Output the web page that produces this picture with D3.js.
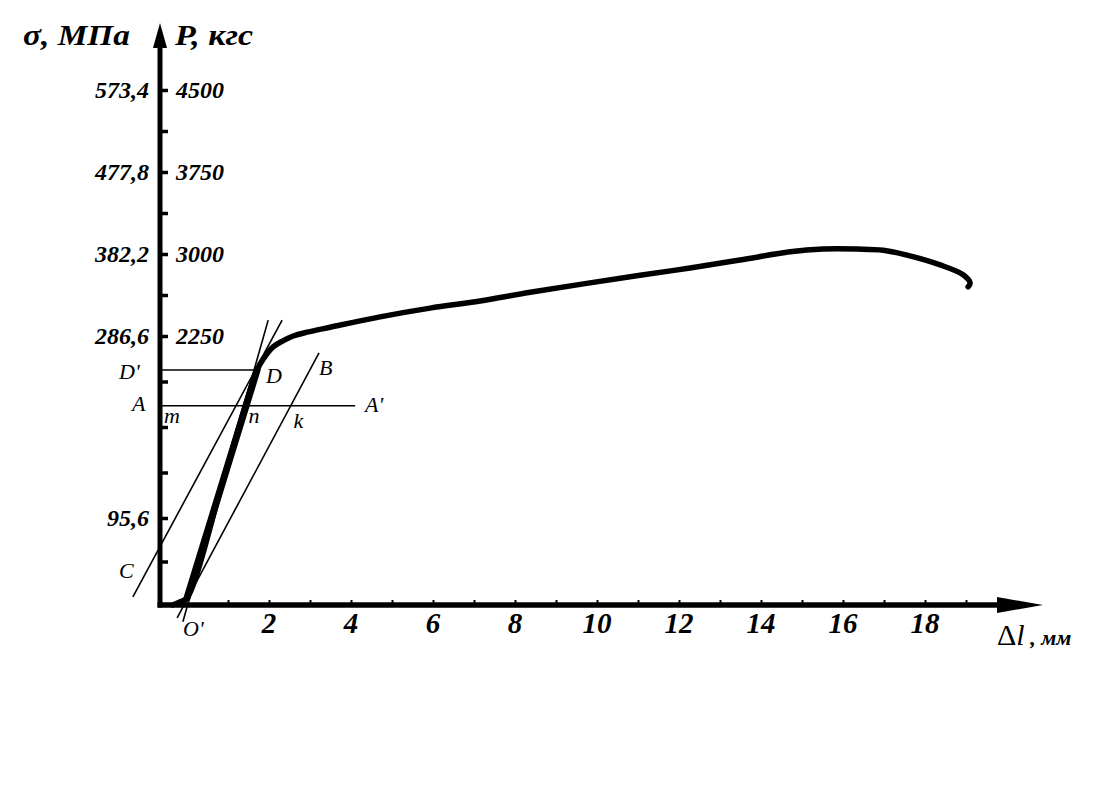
<!DOCTYPE html>
<html>
<head>
<meta charset="utf-8">
<script src="https://cdn.jsdelivr.net/npm/d3@7"></script>
<style>
  html, body { margin: 0; padding: 0; background: #fff; }
  svg { display: block; }
  text { font-family: "Liberation Serif", "Times New Roman", serif; fill: #000; }
</style>
</head>
<body>
<svg id="chart" width="1095" height="807"></svg>
<script>
// ---------- DATA ----------
// Load–elongation curve: elongation Δl (mm) and load P (kgf)
const curveMm  = [-0.35, -0.15, 0, 0.9, 1.71, 1.88, 2.10, 2.34, 2.59, 2.93, 3.49, 4.71, 5.93, 7.15, 8.37, 11.05, 12.27, 13.49, 14.71, 15.51, 16.34, 16.98, 17.56, 18.37, 18.93, 19.10, 19.05];
const curveKgf = [0, 30, 60, 1080, 1970, 2070, 2160, 2210, 2250, 2285, 2330, 2425, 2505, 2570, 2650, 2805, 2872, 2945, 3020, 3045, 3045, 3035, 2990, 2900, 2810, 2735, 2700];

// y-axis ticks (kgf) and their labels
const yTickKgf     = [0, 375, 750, 1125, 1500, 1875, 2250, 2625, 3000, 3375, 3750, 4125, 4500];
const yLabelKgf    = [750, 2250, 3000, 3750, 4500];
const sigmaLabels  = ["95,6", "286,6", "382,2", "477,8", "573,4"];
const loadLabels   = ["", "2250", "3000", "3750", "4500"];

// x-axis ticks (mm) and labels
const xTickMm   = [1, 2, 3, 4, 5, 6, 7, 8, 9, 10, 11, 12, 13, 14, 15, 16, 17, 18, 19];
const xLabelMm  = [2, 4, 6, 8, 10, 12, 14, 16, 18];

// construction lines (mm, kgf end points)
const lineNames = ["tangent", "OB", "C"];
const lineMm0   = [-0.10, -0.24, -1.32];
const lineKgf0  = [-145, -110, 70];
const lineMm1   = [1.98, 3.22, 2.32];
const lineKgf1  = [2395, 2110, 2395];

// horizontal levels
const levelD = 1970, levelDmm = 1.71;   // D' – D
const levelA = 1675, levelAmm = 4.1;    // A – A'

// ---------- LAYOUT ----------
const svg = d3.select("#chart");
svg.append("rect").attr("width", 1095).attr("height", 807).attr("fill", "#fff");

const x = d3.scaleLinear().domain([0, 19]).range([187, 966]);
// hand-drawn, piecewise scale of the original diagram
const y = d3.scaleLinear().domain([0, 750, 2250, 4500]).range([605, 518, 336, 90]);

const axisX = 160;            // vertical axis position (pixel)
const axisMm = x.invert(axisX);
const y0 = y(0);

// ---------- AXES ----------
const yAxis = d3.axisRight(y).tickValues(yTickKgf.slice(1)).tickSize(8).tickFormat("");
const gy = svg.append("g").attr("transform", `translate(${axisX},0)`).call(yAxis);
gy.select(".domain").remove();
gy.selectAll(".tick line").attr("stroke", "#000").attr("stroke-width", 3.5);

const xAxis = d3.axisTop(x).tickValues(xTickMm).tickSize(5).tickFormat("");
const gx = svg.append("g").attr("transform", `translate(0,${y0})`).call(xAxis);
gx.select(".domain").remove();
gx.selectAll(".tick line").attr("stroke", "#000").attr("stroke-width", 2);

svg.append("line").attr("x1", axisX).attr("x2", axisX).attr("y1", y0 + 2.5).attr("y2", 40)
  .attr("stroke", "#000").attr("stroke-width", 5);
svg.append("path").attr("d", `M${axisX - 7},48 L${axisX},23 L${axisX + 7},48 Z`).attr("fill", "#000");

svg.append("line").attr("x1", axisX - 2.5).attr("x2", 1005).attr("y1", y0).attr("y2", y0)
  .attr("stroke", "#000").attr("stroke-width", 5.5);
svg.append("path").attr("d", `M997,${y0 - 8} L1043,${y0} L997,${y0 + 8} Z`).attr("fill", "#000");

// y labels
yLabelKgf.forEach((v, i) => {
  svg.append("text").attr("x", 149).attr("y", y(v)).attr("dy", "0.35em")
    .attr("text-anchor", "end").attr("font-size", 24).attr("font-weight", "bold").attr("font-style", "italic")
    .text(sigmaLabels[i]);
  if (loadLabels[i]) {
    svg.append("text").attr("x", 176).attr("y", y(v)).attr("dy", "0.35em")
      .attr("font-size", 24).attr("font-weight", "bold").attr("font-style", "italic")
      .text(loadLabels[i]);
  }
});

// x labels
xLabelMm.forEach(v => {
  svg.append("text").attr("x", x(v)).attr("y", y0 + 28).attr("text-anchor", "middle")
    .attr("font-size", 29).attr("font-weight", "bold").attr("font-style", "italic").text(v);
});

// axis titles
svg.append("text").attr("x", 23).attr("y", 45).attr("font-size", 29)
  .attr("font-weight", "bold").attr("font-style", "italic")
  .attr("textLength", 107).attr("lengthAdjust", "spacingAndGlyphs").text("σ, МПа");
svg.append("text").attr("x", 175).attr("y", 45).attr("font-size", 29)
  .attr("font-weight", "bold").attr("font-style", "italic")
  .attr("textLength", 78).attr("lengthAdjust", "spacingAndGlyphs").text("P, кгс");

const dl = svg.append("text").attr("x", 997).attr("y", 645);
dl.append("tspan").attr("font-size", 30).text("Δ");
dl.append("tspan").attr("font-size", 30).attr("font-style", "italic").text("l");
dl.append("tspan").attr("font-size", 22).attr("font-weight", "bold").attr("font-style", "italic").text(" , мм");

// ---------- CONSTRUCTION LINES ----------
lineNames.forEach((n, i) => {
  svg.append("line")
    .attr("x1", x(lineMm0[i])).attr("y1", y(lineKgf0[i]))
    .attr("x2", x(lineMm1[i])).attr("y2", y(lineKgf1[i]))
    .attr("stroke", "#000").attr("stroke-width", 1.6);
});
svg.append("line").attr("x1", x(axisMm)).attr("x2", x(levelDmm))
  .attr("y1", y(levelD)).attr("y2", y(levelD)).attr("stroke", "#000").attr("stroke-width", 1.6);
svg.append("line").attr("x1", x(axisMm)).attr("x2", x(levelAmm))
  .attr("y1", y(levelA)).attr("y2", y(levelA)).attr("stroke", "#000").attr("stroke-width", 1.6);

// ---------- CURVE ----------
const pts = curveMm.map((m, i) => [m, curveKgf[i]]);
const line = d3.line().x(d => x(d[0])).y(d => y(d[1])).curve(d3.curveCatmullRom.alpha(0.5));
svg.append("path").attr("d", line(pts)).attr("fill", "none")
  .attr("stroke", "#000").attr("stroke-width", 5.5).attr("stroke-linecap", "round").attr("stroke-linejoin", "round");
// thicker elastic segment O'–D
svg.append("path").attr("d", d3.line().x(d => x(d[0])).y(d => y(d[1]))(pts.slice(2, 5))).attr("fill", "none")
  .attr("stroke", "#000").attr("stroke-width", 7).attr("stroke-linecap", "round");

// ---------- POINT LABELS ----------
const lab = (t, px, py) => svg.append("text").attr("x", px).attr("y", py)
  .attr("font-size", 22).attr("font-style", "italic").text(t);
lab("D'", axisX - 41, y(levelD) + 9);
lab("A", axisX - 28, y(levelA) + 5);
lab("A'", x(levelAmm) + 10, y(levelA) + 6);
lab("m", axisX + 4, y(levelA) + 17);
lab("n", x(1.5), y(levelA) + 17);
lab("k", x(2.6), y(levelA) + 22);
lab("D", x(levelDmm) + 9, y(levelD) + 13);
lab("B", x(lineMm1[1]), y(lineKgf1[1]) + 22);
lab("C", axisX - 41, y0 - 27);
lab("O'", x(0) - 4, y0 + 31);
</script>
</body>
</html>
